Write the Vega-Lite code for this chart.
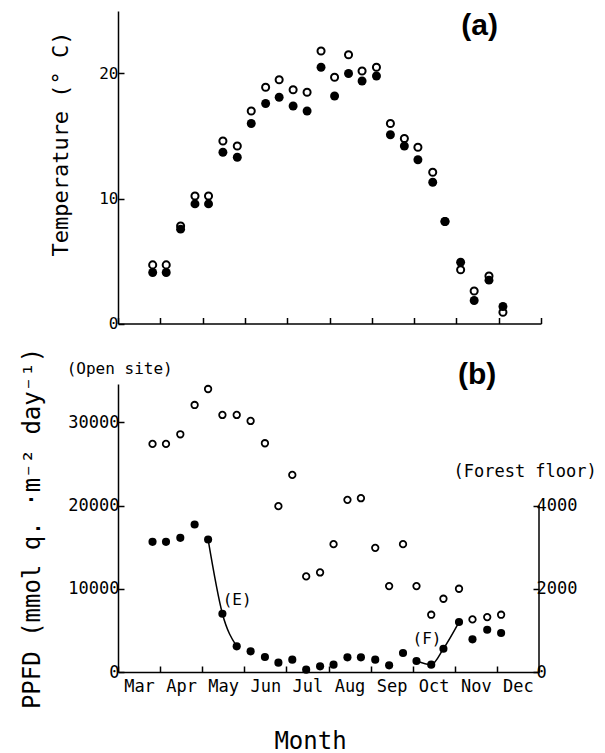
{
  "$schema": "https://vega.github.io/schema/vega-lite/v6.json",
  "background": "white",
  "padding": {"left": 19, "top": 10, "right": 2, "bottom": 0},
  "config": {
    "view": {"stroke": null},
    "font": "DejaVu Sans Mono",
    "axis": {"domainColor": "black", "tickColor": "black", "labelColor": "black", "titleColor": "black", "grid": false, "labelFont": "DejaVu Sans Mono", "titleFont": "DejaVu Sans Mono", "titleFontWeight": "normal", "domainWidth": 1.5, "tickWidth": 1.5, "labelOverlap": false, "labelFlush": false, "labelBound": false}
  },
  "datasets": {
    "d": [
      {"m": 3.82, "t_open": 4.69, "t_forest": 4.08, "p_open": 27400, "p_forest": 3128, "curve": null},
      {"m": 4.14, "t_open": 4.69, "t_forest": 4.08, "p_open": 27400, "p_forest": 3128, "curve": null},
      {"m": 4.48, "t_open": 7.8, "t_forest": 7.55, "p_open": 28560, "p_forest": 3224, "curve": null},
      {"m": 4.82, "t_open": 10.2, "t_forest": 9.57, "p_open": 32080, "p_forest": 3544, "curve": null},
      {"m": 5.14, "t_open": 10.2, "t_forest": 9.57, "p_open": 34000, "p_forest": 3184, "curve": "E"},
      {"m": 5.48, "t_open": 14.6, "t_forest": 13.7, "p_open": 30880, "p_forest": 1400, "curve": "E"},
      {"m": 5.82, "t_open": 14.2, "t_forest": 13.3, "p_open": 30880, "p_forest": 616, "curve": "E"},
      {"m": 6.15, "t_open": 17.0, "t_forest": 16.0, "p_open": 30160, "p_forest": 496, "curve": null},
      {"m": 6.49, "t_open": 18.9, "t_forest": 17.6, "p_open": 27480, "p_forest": 360, "curve": null},
      {"m": 6.81, "t_open": 19.5, "t_forest": 18.1, "p_open": 19920, "p_forest": 224, "curve": null},
      {"m": 7.14, "t_open": 18.7, "t_forest": 17.4, "p_open": 23680, "p_forest": 296, "curve": null},
      {"m": 7.47, "t_open": 18.5, "t_forest": 17.0, "p_open": 11480, "p_forest": 56, "curve": null},
      {"m": 7.80, "t_open": 21.8, "t_forest": 20.5, "p_open": 11960, "p_forest": 136, "curve": null},
      {"m": 8.12, "t_open": 19.7, "t_forest": 18.2, "p_open": 15360, "p_forest": 176, "curve": null},
      {"m": 8.45, "t_open": 21.5, "t_forest": 20.0, "p_open": 20680, "p_forest": 352, "curve": null},
      {"m": 8.77, "t_open": 20.2, "t_forest": 19.4, "p_open": 20880, "p_forest": 352, "curve": null},
      {"m": 9.11, "t_open": 20.5, "t_forest": 19.8, "p_open": 14920, "p_forest": 296, "curve": null},
      {"m": 9.44, "t_open": 16.0, "t_forest": 15.1, "p_open": 10320, "p_forest": 160, "curve": null},
      {"m": 9.77, "t_open": 14.8, "t_forest": 14.2, "p_open": 15360, "p_forest": 456, "curve": null},
      {"m": 10.09, "t_open": 14.1, "t_forest": 13.1, "p_open": 10320, "p_forest": 264, "curve": "F"},
      {"m": 10.44, "t_open": 12.1, "t_forest": 11.3, "p_open": 6880, "p_forest": 176, "curve": "F"},
      {"m": 10.73, "t_open": 8.16, "t_forest": 8.16, "p_open": 8800, "p_forest": 560, "curve": "F"},
      {"m": 11.10, "t_open": 4.3, "t_forest": 4.9, "p_open": 10000, "p_forest": 1200, "curve": "F"},
      {"m": 11.42, "t_open": 2.6, "t_forest": 1.84, "p_open": 6320, "p_forest": 784, "curve": null},
      {"m": 11.77, "t_open": 3.8, "t_forest": 3.47, "p_open": 6600, "p_forest": 1016, "curve": null},
      {"m": 12.10, "t_open": 0.9, "t_forest": 1.36, "p_open": 6880, "p_forest": 936, "curve": null}
    ]
  },
  "spacing": 60,
  "bounds": "flush",
  "vconcat": [
    {
      "width": 423,
      "height": 312.5,
      "data": {"name": "d"},
      "encoding": {
        "x": {"field": "m", "type": "quantitative", "scale": {"domain": [3, 13], "nice": false, "zero": false},
              "axis": {"values": [3, 4, 5, 6, 7, 8, 9, 10, 11, 12, 13], "labels": false, "title": null, "tickSize": -6}}
      },
      "layer": [
        {
          "mark": {"type": "point", "shape": "circle", "filled": false, "stroke": "black", "strokeWidth": 2, "size": 50, "opacity": 1},
          "encoding": {
            "y": {"field": "t_open", "type": "quantitative", "scale": {"domain": [0, 25], "nice": false},
                  "axis": {"values": [0, 10, 20], "title": "Temperature (° C)", "titleFontSize": 22, "titleX": -51, "titleY": 132.5, "titleBaseline": "alphabetic", "titleAlign": "center", "titleAngle": -90, "labelFontSize": 16, "tickSize": -6, "labelPadding": 6}}
          }
        },
        {
          "mark": {"type": "circle", "color": "black", "size": 80, "opacity": 1},
          "encoding": {"y": {"field": "t_forest", "type": "quantitative"}}
        },
        {
          "transform": [{"filter": "datum.m < 3.9"}],
          "mark": {"type": "text", "text": "(a)", "font": "Liberation Sans", "fontSize": 30, "fontWeight": "bold", "align": "center", "baseline": "middle", "color": "black"},
          "encoding": {"x": {"datum": 11.55}, "y": {"datum": 23.8}}
        }
      ]
    },
    {
      "width": 421,
      "height": 288,
      "data": {"name": "d"},
      "encoding": {
        "x": {"field": "m", "type": "quantitative", "scale": {"domain": [3, 13], "nice": false, "zero": false},
              "axis": {"values": [3, 4, 5, 6, 7, 8, 9, 10, 11, 12, 13], "labelExpr": "['Mar','Apr','May','Jun','Jul','Aug','Sep','Oct','Nov','Dec',''][datum.value - 3]", "labelOffset": 21, "labelFontSize": 17, "labelPadding": 12, "tickSize": -6, "title": "Month", "titleFontSize": 24, "titleX": 192, "titleY": 76, "titleBaseline": "alphabetic", "titleAlign": "center"}}
      },
      "layer": [
        {
          "layer": [
            {
              "mark": {"type": "point", "shape": "circle", "filled": false, "stroke": "black", "strokeWidth": 1.8, "size": 42, "opacity": 1},
              "encoding": {
                "y": {"field": "p_open", "type": "quantitative", "scale": {"domain": [0, 34600], "nice": false},
                      "axis": {"orient": "left", "values": [0, 10000, 20000, 30000], "format": "d", "title": "PPFD (mmol q. ·m⁻² day⁻¹)", "titleFontSize": 24, "titleX": -79, "titleBaseline": "alphabetic", "titleAlign": "center", "titleAngle": -90, "labelFontSize": 17, "tickSize": -6, "labelPadding": 5}}
              }
            },
            {
              "transform": [{"filter": "datum.m < 3.9"}],
              "mark": {"type": "text", "text": "(Open site)", "fontSize": 16, "font": "DejaVu Sans Mono", "align": "center", "baseline": "middle", "color": "black"},
              "encoding": {"x": {"datum": 3.04}, "y": {"datum": 36390}}
            },
            {
              "transform": [{"filter": "datum.m < 3.9"}],
              "mark": {"type": "text", "text": "(b)", "font": "Liberation Sans", "fontSize": 30, "fontWeight": "bold", "align": "center", "baseline": "middle", "color": "black"},
              "encoding": {"x": {"datum": 11.53}, "y": {"datum": 35730}}
            }
          ]
        },
        {
          "layer": [
            {
              "transform": [{"filter": "isValid(datum.curve)"}],
              "mark": {"type": "line", "color": "black", "strokeWidth": 1.5, "interpolate": "monotone"},
              "encoding": {
                "y": {"field": "p_forest", "type": "quantitative", "scale": {"domain": [0, 6920], "nice": false},
                      "axis": {"orient": "right", "values": [0, 2000, 4000], "format": "d", "title": null, "domain": false, "labelFontSize": 17, "tickSize": -6, "labelPadding": 3}},
                "detail": {"field": "curve"}
              }
            },
            {
              "mark": {"type": "circle", "color": "black", "size": 66, "opacity": 1},
              "encoding": {"y": {"field": "p_forest", "type": "quantitative"}}
            },
            {
              "transform": [{"filter": "datum.m < 3.9"}],
              "mark": {"type": "rule", "color": "black", "strokeWidth": 1.5},
              "encoding": {"x": {"datum": 13}, "y": {"datum": 0}, "y2": {"datum": 4000}}
            },
            {
              "transform": [{"filter": "datum.m < 3.9"}],
              "mark": {"type": "text", "text": "(E)", "fontSize": 16, "font": "DejaVu Sans Mono", "align": "center", "baseline": "middle", "color": "black"},
              "encoding": {"x": {"datum": 5.83}, "y": {"datum": 1726}}
            },
            {
              "transform": [{"filter": "datum.m < 3.9"}],
              "mark": {"type": "text", "text": "(F)", "fontSize": 16, "font": "DejaVu Sans Mono", "align": "center", "baseline": "middle", "color": "black"},
              "encoding": {"x": {"datum": 10.34}, "y": {"datum": 787}}
            },
            {
              "transform": [{"filter": "datum.m < 3.9"}],
              "mark": {"type": "text", "text": "(Forest floor)", "fontSize": 17, "font": "DejaVu Sans Mono", "align": "center", "baseline": "middle", "color": "black"},
              "encoding": {"x": {"datum": 12.67}, "y": {"datum": 4802}}
            }
          ]
        }
      ],
      "resolve": {"scale": {"y": "independent"}}
    }
  ]
}
